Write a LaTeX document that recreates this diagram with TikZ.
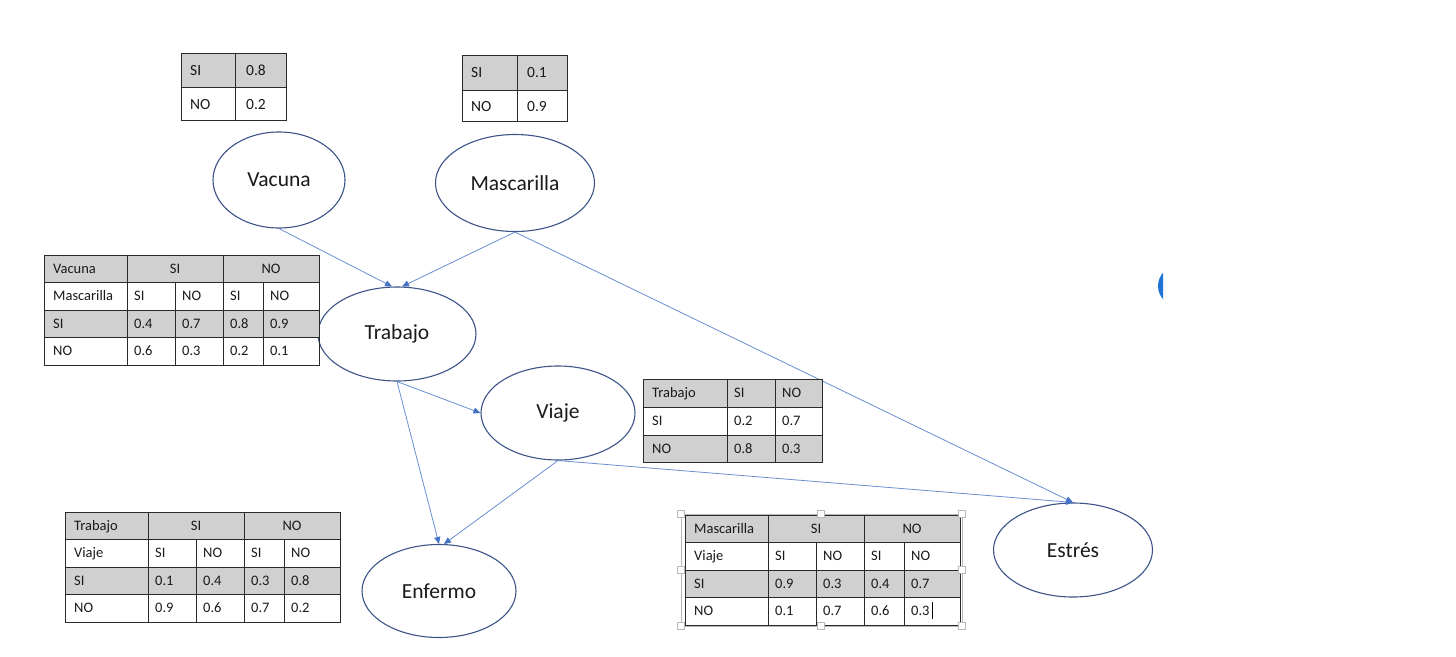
\documentclass[tikz,border=0pt]{standalone}
\usepackage{fontspec}
\setmainfont{Carlito}
\usetikzlibrary{shapes.geometric,arrows.meta}
\definecolor{ellc}{HTML}{3D5488}
\definecolor{arrc}{HTML}{6A8ED2}
\definecolor{tipc}{HTML}{4472C4}
\definecolor{grayfill}{HTML}{D0D0D0}
\definecolor{tabline}{HTML}{2A2A2A}
\definecolor{selc}{HTML}{B8B8B8}
\definecolor{bluedot}{HTML}{1F74D6}
\definecolor{txt}{HTML}{1A1A1A}
\tikzset{
  var/.style={ellipse, draw=ellc, line width=1.1pt, inner sep=0pt, text=txt, font=\fontsize{21.5}{21.5}\selectfont},
  edge/.style={draw=arrc, line width=0.8pt, -{Triangle[length=7pt,width=6pt,fill=tipc,color=tipc]}},
  tab/.style={draw=tabline, line width=1pt},
  cell/.style={inner sep=0pt, anchor=west, text=txt, font=\fontsize{14.5}{14.5}\selectfont, text height=9.3pt, text depth=0pt},
  cellc/.style={cell, anchor=center},
  pcell/.style={cell, font=\fontsize{15.5}{15.5}\selectfont, text height=10pt},
  handle/.style={draw=selc, fill=white, line width=0.8pt, minimum size=7pt, inner sep=0pt},
}
\newcommand{\cpttable}[5]{%
  \begin{scope}[shift={#2}]
    \fill[grayfill] (0,0) rectangle (275,27.5);
    \fill[grayfill] (0,55) rectangle (275,82.5);
    \draw[tab] (0,0) rectangle (275,110);
    \foreach \yy in {27.5,55,82.5} \draw[tab] (0,\yy) -- (275,\yy);
    \draw[tab] (83,0) -- (83,110);
    \draw[tab] (179,0) -- (179,110);
    \draw[tab] (131,27.5) -- (131,110);
    \draw[tab] (219,27.5) -- (219,110);
    \node[cell] (#1-h) at (9,13.75) {#3};
    \node[cellc] (#1-hs) at (131,13.75) {SI};
    \node[cellc] (#1-hn) at (227,13.75) {NO};
    \node[cell] (#1-v) at (9,41.25) {#4};
    \node[cell] (#1-r3) at (9,68.75) {SI};
    \node[cell] (#1-r4) at (9,96.25) {NO};
    \foreach \xx/\lab/\a/\b [count=\i] in {#5} {
      \node[cell] (#1-c\i) at (\xx,41.25) {\lab};
      \node[cell] (#1-s\i) at (\xx,68.75) {\a};
      \node[cell] (#1-n\i) at (\xx,96.25) {\b};
    }
  \end{scope}}
\begin{document}
\begin{tikzpicture}[x=1pt,y=-1pt]
\useasboundingbox (0,0) rectangle (1456,656);
\fill[white] (0,0) rectangle (1456,656);

% prior tables
\fill[grayfill] (181,53) rectangle (286,87);
\draw[tab] (181,53) rectangle (286,120);
\draw[tab] (181,87) -- (286,87);
\draw[tab] (235,53) -- (235,120);
\node[pcell] (pv1) at (190,70) {SI};
\node[pcell] (pv2) at (246,70) {0.8};
\node[pcell] (pv3) at (190,104) {NO};
\node[pcell] (pv4) at (246,104) {0.2};

\fill[grayfill] (462,55) rectangle (567,90);
\draw[tab] (462,55) rectangle (567,121);
\draw[tab] (462,90) -- (567,90);
\draw[tab] (517,55) -- (517,121);
\node[pcell] (pm1) at (471,72) {SI};
\node[pcell] (pm2) at (527,72) {0.1};
\node[pcell] (pm3) at (471,106) {NO};
\node[pcell] (pm4) at (527,106) {0.9};

% variables
\node[var, minimum width=132pt, minimum height=96pt] (vac) at (279,180) {Vacuna};
\node[var, minimum width=159pt, minimum height=97pt] (masc) at (515,183) {Mascarilla};
\node[var, minimum width=158pt, minimum height=94pt] (trab) at (397,334) {Trabajo};
\node[var, minimum width=154pt, minimum height=94pt] (viaje) at (558,413) {Viaje};
\node[var, minimum width=154pt, minimum height=93pt] (enf) at (439,591) {Enfermo};
\node[var, minimum width=159pt, minimum height=94pt] (est) at (1073,550) {Estrés};

% edges
\draw[edge] (vac.south) -- (trab.96);
\draw[edge] (masc.south) -- (trab.84);
\draw[edge] (masc.south) -- (est.north);
\draw[edge] (trab.south) -- (viaje.west);
\draw[edge] (trab.south) -- (enf.north);
\draw[edge] (viaje.south) -- (enf.84);
\draw[edge] (viaje.south) -- (est.north);

% CPT tables
\cpttable{tt}{(44,255)}{Vacuna}{Mascarilla}{90/SI/0.4/0.6,138/NO/0.7/0.3,186/SI/0.8/0.2,226/NO/0.9/0.1}
\cpttable{te}{(65,512)}{Trabajo}{Viaje}{90/SI/0.1/0.9,138/NO/0.4/0.6,186/SI/0.3/0.7,226/NO/0.8/0.2}

% Viaje table
\fill[grayfill] (643,379) rectangle (822,407);
\fill[grayfill] (643,435) rectangle (822,462);
\draw[tab] (643,379) rectangle (822,462);
\draw[tab] (643,407) -- (822,407);
\draw[tab] (643,435) -- (822,435);
\draw[tab] (727,379) -- (727,462);
\draw[tab] (775,379) -- (775,462);
\node[cell] (tv1) at (652,393) {Trabajo};
\node[cell] (tv2) at (734,393) {SI};
\node[cell] (tv3) at (782,393) {NO};
\node[cell] (tv4) at (652,421) {SI};
\node[cell] (tv5) at (734,421) {0.2};
\node[cell] (tv6) at (782,421) {0.7};
\node[cell] (tv7) at (652,448.5) {NO};
\node[cell] (tv8) at (734,448.5) {0.8};
\node[cell] (tv9) at (782,448.5) {0.3};

% Estres table with selection frame
\draw[selc, line width=0.8pt] (681,514) rectangle (962,626);
\cpttable{ts}{(685,515)}{Mascarilla}{Viaje}{90/SI/0.9/0.1,138/NO/0.3/0.7,186/SI/0.4/0.6,226/NO/0.7/0.3}
\draw[black, line width=0.7pt] (932,602) -- (932,619);
\foreach \hx/\hy [count=\k] in {681/514,821/514,962/514,681/570,962/570,681/626,821/626,962/626}
  \node[handle] (h\k) at (\hx,\hy) {};

% partial blue disc at right
\begin{scope}
  \clip (1150,262) rectangle (1163,310);
  \fill[bluedot] (1178,286) circle (20);
\end{scope}
\end{tikzpicture}
\end{document}
